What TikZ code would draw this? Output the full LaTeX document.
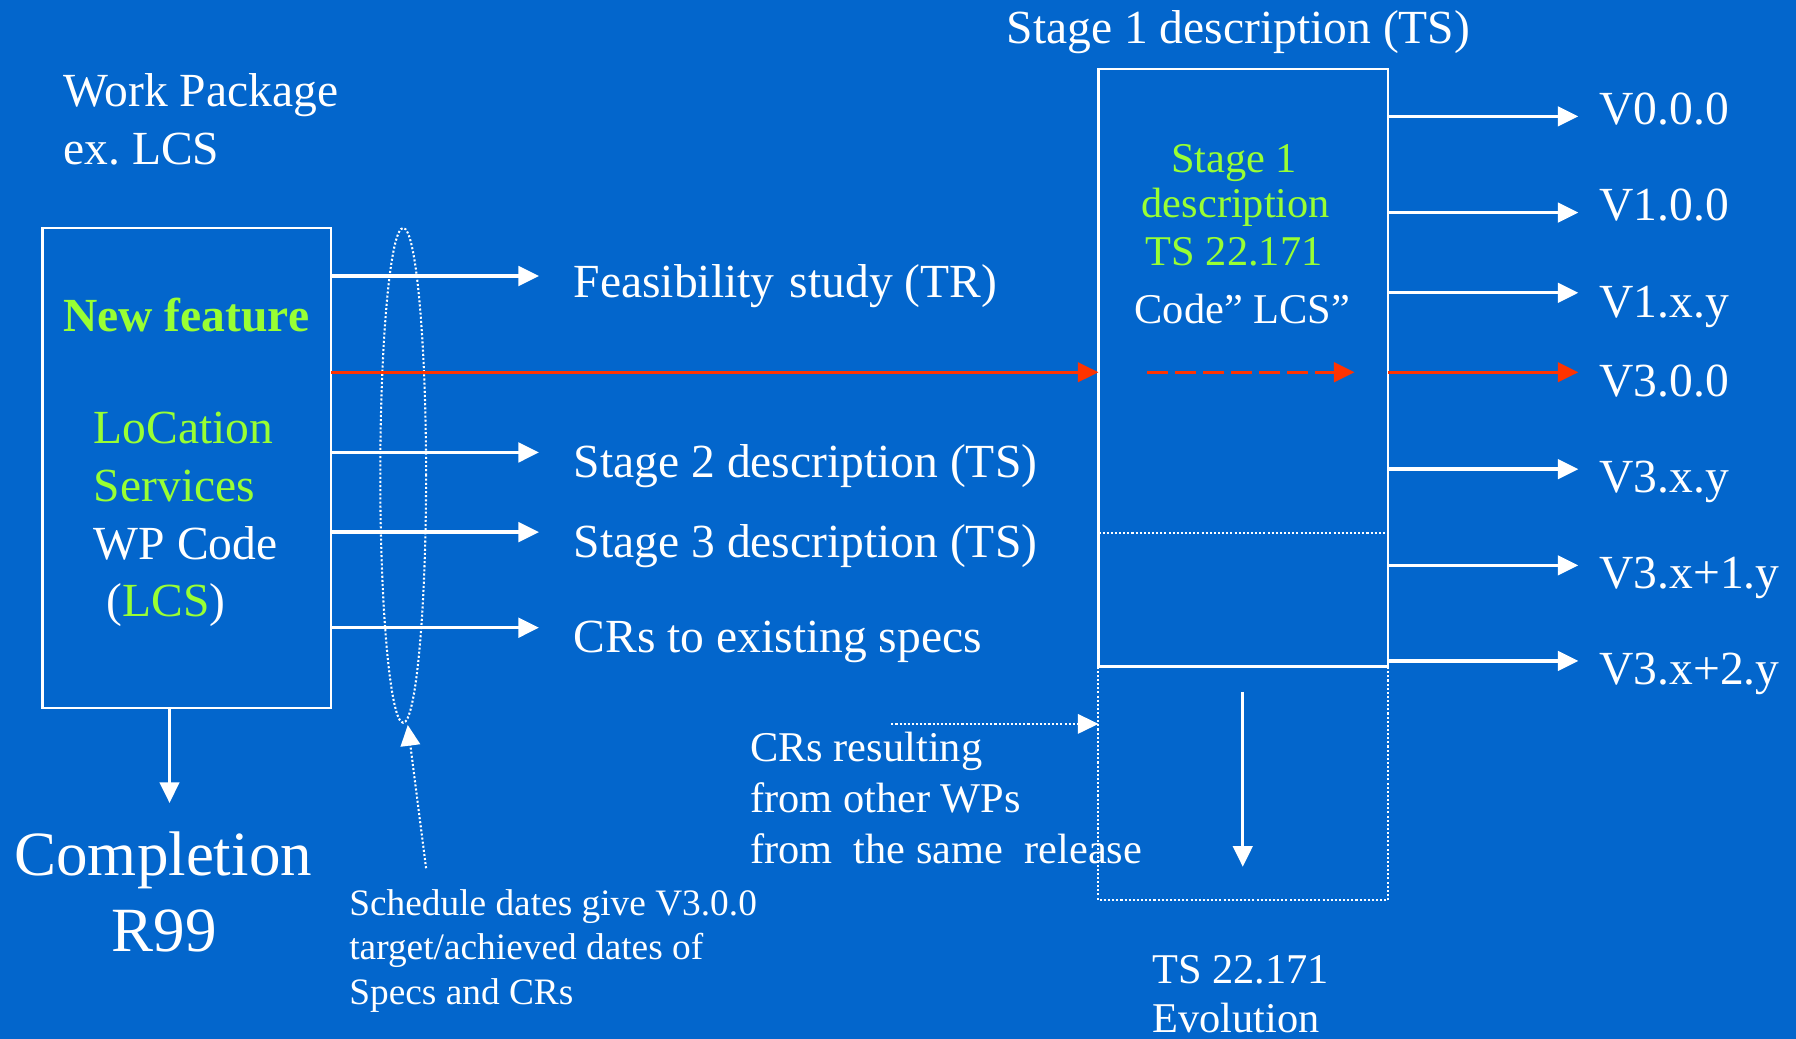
\documentclass[tikz,border=0pt]{standalone}
\usepackage{fontspec}
\setmainfont{Liberation Serif}
\usetikzlibrary{arrows.meta,shapes.geometric}
\definecolor{bgblue}{HTML}{0366CC}
\definecolor{lgreen}{HTML}{99FF33}
\definecolor{rred}{HTML}{FF3300}
\newcommand\fmain{\fontsize{41.5}{48}\selectfont}
\newcommand\fsmall{\fontsize{37}{44}\selectfont}
\newcommand\fsched{\fontsize{32.6}{39}\selectfont}
\newcommand\fbig{\fontsize{55}{66}\selectfont}
\begin{document}
\begin{tikzpicture}[x=1pt,y=-1pt,
  txt/.style={inner sep=0pt, outer sep=0pt, text=white},
  main/.style={txt, font=\fmain},
  small/.style={txt, font=\fsmall},
  sched/.style={txt, font=\fsched, anchor=base west},
  big/.style={txt, font=\fbig, anchor=base},
  boxline/.style={draw=white, line width=2pt, inner sep=0pt, outer sep=0pt},
  tip/.style={-{Triangle[length=18pt,width=17pt]}},
  warrow/.style={white, line width=3pt, tip},
  rarrow/.style={rred, line width=2.7pt, tip},
  dots/.style={white, line width=1.8pt, dash pattern=on 1.8pt off 1.8pt}
]
\fill[bgblue] (0,0) rectangle (1568,907);
\useasboundingbox (0,0) rectangle (1568,907);

% ---- Work package (left) ----
\node[main, anchor=base west] (wpA) at (55.5,93) {Work Package};
\node[main, anchor=base west] (wpB) at (55.5,144) {ex.\ LCS};
\node[boxline, minimum width=252pt, minimum height=419pt] (wpbox) at (163,408.5) {};
\node[main, anchor=base, text=lgreen, font=\fmain\bfseries] (nf) at (162.6,289.4) {New feature};
\node[main, anchor=base west, text=lgreen] (loc) at (82,387.5) {LoCation};
\node[main, anchor=base west, text=lgreen] (serv) at (82,438) {Services};
\node[main, anchor=base west] (wpc) at (82,488.5) {WP Code};
\node[main, anchor=base west] (lcs) at (93,538.4) {(\textcolor{lgreen}{LCS})};

% ---- grouping ellipse ----
\node[ellipse, draw, dots, minimum width=40pt, minimum height=432pt, inner sep=0pt, outer sep=0pt] (grp) at (352,415) {};

% ---- outputs of the work package ----
\coordinate (tFeas) at (470.6,241);
\coordinate (tS2) at (470.6,395);
\coordinate (tS3) at (470.6,464.6);
\coordinate (tCR) at (470.6,548);
\draw[warrow] (wpbox.east |- tFeas) -- (tFeas);
\draw[warrow] (wpbox.east |- tS2) -- (tS2);
\draw[warrow] (wpbox.east |- tS3) -- (tS3);
\draw[warrow] (wpbox.east |- tCR) -- (tCR);
\node[main, anchor=base west] (feas) at (501,260) {Feasibility\hspace{3pt} study (TR)};
\node[main, anchor=base west] (st2) at (501,416.6) {Stage 2 description (TS)};
\node[main, anchor=base west] (st3) at (501,486.4) {Stage 3 description (TS)};
\node[main, anchor=base west] (crs) at (501,569.7) {CRs to existing specs};

% ---- Stage 1 box ----
\node[boxline, minimum width=253pt, minimum height=522pt] (s1box) at (1085.5,321) {};
\node[main, anchor=base west] (s1t) at (879,37.8) {Stage 1 description (TS)};
\node[small, anchor=base, text=lgreen] (g1) at (1077.5,150.5) {Stage 1};
\node[small, anchor=base, text=lgreen] (g2) at (1079,190.3) {description};
\node[small, anchor=base, text=lgreen] (g3) at (1077.5,231.4) {TS 22.171};
\node[small, anchor=base] (g4) at (1084.6,282) {Code” LCS”};

\coordinate (rY) at (0,325);
\draw[rarrow] (wpbox.east |- rY) -- (s1box.west |- rY);
\coordinate (dA) at (1001.6,325);
\coordinate (dB) at (1182.6,325);
\draw[rarrow, dash pattern=on 18pt off 6.4pt] (dA) -- (dB);

\coordinate (dl) at (0,465);
\draw[dots] (s1box.west |- dl) -- (s1box.east |- dl);
\coordinate (ext) at (0,786);
\draw[dots] (s1box.south west) -- (s1box.south west |- ext) -- (s1box.south east |- ext) -- (s1box.south east);

% ---- versions ----
\coordinate (v0) at (1378,101.6);
\coordinate (v1) at (1378,185.6);
\coordinate (v2) at (1378,255.6);
\coordinate (v3) at (1378,325);
\coordinate (v4) at (1378,409.6);
\coordinate (v5) at (1378,493.6);
\coordinate (v6) at (1378,577);
\draw[warrow] (s1box.east |- v0) -- (v0);
\draw[warrow] (s1box.east |- v1) -- (v1);
\draw[warrow] (s1box.east |- v2) -- (v2);
\draw[rarrow] (s1box.east |- v3) -- (v3);
\draw[warrow] (s1box.east |- v4) -- (v4);
\draw[warrow] (s1box.east |- v5) -- (v5);
\draw[warrow] (s1box.east |- v6) -- (v6);
\node[main, anchor=base west] (V0) at (1396.5,108.9) {V0.0.0};
\node[main, anchor=base west] (V1) at (1396.5,192.5) {V1.0.0};
\node[main, anchor=base west] (V2) at (1396.5,277.6) {V1.x.y};
\node[main, anchor=base west] (V3) at (1396.5,346) {V3.0.0};
\node[main, anchor=base west] (V4) at (1396.5,429.6) {V3.x.y};
\node[main, anchor=base west] (V5) at (1396.5,513.9) {V3.x+1.y};
\node[main, anchor=base west] (V6) at (1396.5,597.5) {V3.x+2.y};

% ---- evolution ----
\coordinate (dnA) at (1085,604);
\coordinate (dnB) at (1085,756.7);
\draw[warrow, line width=2.5pt] (dnA) -- (dnB);
\node[small, anchor=base west] (ev1) at (1006,858.4) {TS 22.171};
\node[small, anchor=base west] (ev2) at (1006,901.6) {Evolution};

% ---- CRs from other WPs ----
\coordinate (crA) at (778.2,632);
\draw[dots, tip] (crA) -- (s1box.west |- crA);
\node[small, anchor=base west] (cr1) at (655,664.5) {CRs resulting};
\node[small, anchor=base west] (cr2) at (655,709) {from other WPs};
\node[small, anchor=base west] (cr3) at (655,753.5) {from\ \ the same\ \ release};

% ---- completion ----
\coordinate (cmp) at (148,701);
\draw[warrow, line width=2.5pt] (wpbox.south -| cmp) -- (cmp);
\node[big] (c1) at (142.5,764) {Completion};
\node[big] (c2) at (143.5,831) {R99};

% ---- schedule note ----
\coordinate (sch) at (372,758);
\draw[dots, tip] (sch) -- ([xshift=4pt,yshift=-2pt]grp.south);
\node[sched] (sc1) at (305,799) {Schedule dates give V3.0.0};
\node[sched] (sc2) at (305,838) {target/achieved dates of};
\node[sched] (sc3) at (305,876.6) {Specs and CRs};
\end{tikzpicture}
\end{document}
